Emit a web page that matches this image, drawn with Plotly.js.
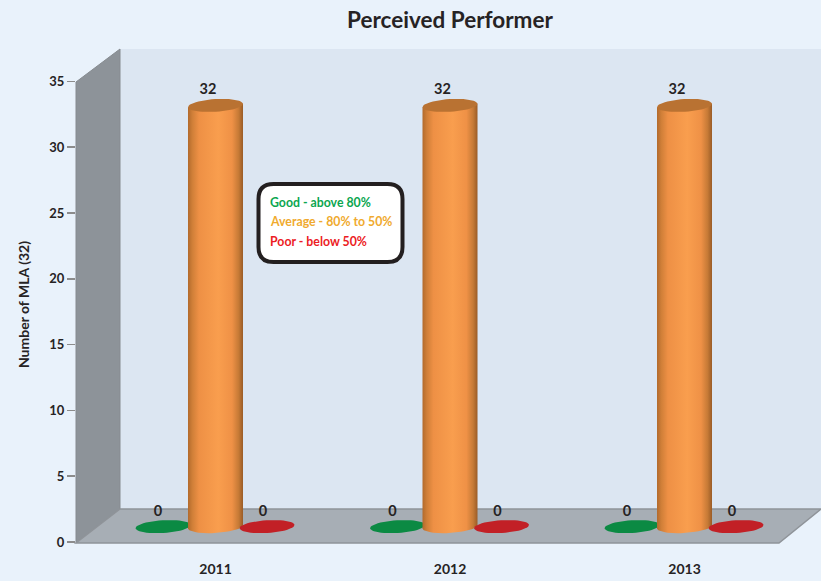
<!DOCTYPE html>
<html><head><meta charset="utf-8">
<script src="https://cdn.plot.ly/plotly-3.0.1.min.js"></script>
<style>html,body{margin:0;padding:0;background:#e9f2fb}#c{width:821px;height:581px}</style>
</head><body><div id="c"></div>
<script>
const years = ['2011', '2012', '2013'];
const good = [0, 0, 0];
const average = [32, 32, 32];
const poor = [0, 0, 0];
const legendLines = ['Good - above 80%', 'Average - 80% to 50%', 'Poor - below 50%'];
const legendColors = ['#0ba650', '#f0aa2e', '#ec1c24'];
const titleText = 'Perceived Performer';
const yTitle = 'Number of MLA (32)';

const W = 821, H = 581, L = 76, T = 67, B = 39;
const pxPerCat = 234.5, pxPerVal = 13.16, zeroPx = H - B, firstCatPx = 215.5;
const X = p => (p - firstCatPx) / pxPerCat;
const Y = p => (zeroPx - p) / pxPerVal;
const PX = p => (p - L) / (W - L);
const PY = p => (H - B - p) / (H - B - T);
const floorRise = 15.4 / pxPerVal;
const FONT = 'Lato, "Open Sans", sans-serif';
const INK = '#262324';
const idx = years.map((_, i) => i);
const TILT = 3.5;

function ellipse(cx, cy, rx, ry, tiltDeg) {
  const a = tiltDeg * Math.PI / 180, xs = [], ys = [];
  for (let k = 0; k <= 48; k++) {
    const t = k / 48 * 2 * Math.PI, ex = rx * Math.cos(t), ey = ry * Math.sin(t);
    xs.push(cx + (ex * Math.cos(a) + ey * Math.sin(a)) / pxPerCat);
    ys.push(cy + (ex * Math.sin(a) - ey * Math.cos(a)) / pxPerVal);
  }
  return {x: xs, y: ys};
}
function disc(cx, value, color, rx, ry, tilt) {
  const e = ellipse(cx, value + floorRise, rx, ry, tilt);
  return {x: e.x, y: e.y, mode: 'lines', fill: 'toself', fillcolor: color, line: {width: 0},
    hoverinfo: 'skip', showlegend: false};
}
function cylinder(cx, value) {
  const rx = 27.5 / pxPerCat, ry = 6.4 / pxPerVal, slope = 1.7 / pxPerVal, xs = [], ys = [];
  const base = floorRise, top = value + floorRise;
  for (let k = 0; k <= 24; k++) {
    const t = Math.PI * k / 24;
    xs.push(cx - rx * Math.cos(t)); ys.push(base - ry * Math.sin(t) - slope * Math.cos(t));
  }
  xs.push(cx + rx); ys.push(top + slope); xs.push(cx - rx); ys.push(top - slope);
  xs.push(cx - rx); ys.push(base - slope);
  return {x: xs, y: ys, mode: 'lines', fill: 'toself', line: {width: 0},
    fillgradient: {type: 'horizontal', colorscale: [
      [0, '#b26a2c'], [0.08, '#d07f38'], [0.2, '#ee9045'], [0.55, '#f99e4e'],
      [0.8, '#ef9146'], [0.92, '#c67a36'], [1, '#9a5c27']]},
    hoverinfo: 'skip', showlegend: false};
}

const traces = [];
const greenOff = -52.5 / pxPerCat, redOff = 51.5 / pxPerCat;
idx.forEach(i => {
  traces.push(disc(i + greenOff, good[i], '#0b8a43', 27.5, 6.4, TILT));
  traces.push(cylinder(i, average[i]));
  traces.push(disc(i, average[i], '#b97232', 27.5, 6.4, TILT));
  traces.push(disc(i + redOff, poor[i], '#c22026', 27.5, 6.4, TILT));
});
// value labels
const labelTrace = (xOff, vals, liftPx) => ({
  x: idx.map(i => i + xOff), y: vals.map(v => v + floorRise + liftPx / pxPerVal),
  text: vals.map(String), mode: 'text', textposition: 'middle center',
  textfont: {family: FONT, size: 14.5, color: INK, weight: 700},
  hoverinfo: 'skip', showlegend: false, cliponaxis: false
});
traces.push(labelTrace(-57.5 / pxPerCat, good, 14.5));
traces.push(labelTrace(-7.5 / pxPerCat, average, 15.5));
traces.push(labelTrace(47.5 / pxPerCat, poor, 14.5));

const pathOf = pts => pts.map((p, i) => (i ? 'L ' : 'M ') + PX(p[0]) + ' ' + PY(p[1])).join(' ') + ' Z';
const bx0 = 258.5, bx1 = 402.5, by0 = 184, by1 = 262, r = 15;
const mx = PX, my = PY;
const boxPath =
  `M ${mx(bx0 + r)} ${my(by0)} L ${mx(bx1 - r)} ${my(by0)} Q ${mx(bx1)} ${my(by0)} ${mx(bx1)} ${my(by0 + r)} ` +
  `L ${mx(bx1)} ${my(by1 - r)} Q ${mx(bx1)} ${my(by1)} ${mx(bx1 - r)} ${my(by1)} ` +
  `L ${mx(bx0 + r)} ${my(by1)} Q ${mx(bx0)} ${my(by1)} ${mx(bx0)} ${my(by1 - r)} ` +
  `L ${mx(bx0)} ${my(by0 + r)} Q ${mx(bx0)} ${my(by0)} ${mx(bx0 + r)} ${my(by0)} Z`;

const legendY = [202, 221, 241];
const layout = {
  width: W, height: H,
  margin: {l: L, r: 0, t: T, b: B},
  paper_bgcolor: '#e9f2fb', plot_bgcolor: 'rgba(0,0,0,0)',
  showlegend: false, hovermode: false,
  title: {text: '<b>' + titleText + '</b>', x: 450 / W, xref: 'container', xanchor: 'center', y: 1 - 20 / H,
    yref: 'container', yanchor: 'middle', font: {family: FONT, size: 22.5, color: INK}},
  xaxis: {
    range: [X(L), X(W)], tickmode: 'array', tickvals: idx, ticktext: years,
    showgrid: false, zeroline: false, showline: false,
    ticks: 'outside', ticklen: 14, tickcolor: 'rgba(0,0,0,0)',
    tickfont: {family: FONT, size: 14, color: INK, weight: 700}, fixedrange: true
  },
  yaxis: {
    range: [0, (zeroPx - T) / pxPerVal], tickmode: 'array', tickvals: [0, 5, 10, 15, 20, 25, 30, 35],
    showgrid: false, zeroline: false, showline: false,
    ticks: 'outside', ticklen: 8, tickwidth: 1.5, tickcolor: '#8c8c8c',
    tickfont: {family: FONT, size: 13, color: INK, weight: 700}, fixedrange: true,
    title: {text: '<b>' + yTitle + '</b>', standoff: 16, font: {family: FONT, size: 14, color: INK}}
  },
  shapes: [
    {type: 'path', layer: 'below', xref: 'paper', yref: 'paper',
      path: pathOf([[120, 49], [W, 49], [W, 509], [120, 509]]), fillcolor: '#dce6f2', line: {width: 0}},
    {type: 'path', layer: 'below', xref: 'paper', yref: 'paper',
      path: pathOf([[76, 82], [120, 49], [120, 509], [76, 543]]), fillcolor: '#8d9399', line: {color: '#868b90', width: 1}},
    {type: 'path', layer: 'below', xref: 'paper', yref: 'paper',
      path: pathOf([[76, 543], [120, 509], [W, 509], [779, 543]]), fillcolor: '#a7aeb5', line: {color: '#8f9499', width: 1.5}},
    {type: 'path', layer: 'above', xref: 'paper', yref: 'paper', path: boxPath, fillcolor: '#ffffff',
      line: {color: '#231f20', width: 4}}
  ],
  annotations: legendLines.map((t, i) => ({
    text: '<b>' + t + '</b>', xref: 'paper', yref: 'paper', x: PX(268), y: PY(legendY[i]),
    xanchor: 'left', yanchor: 'middle', showarrow: false,
    font: {family: FONT, size: 12.3, color: legendColors[i]}
  }))
};
Plotly.newPlot('c', traces, layout, {displayModeBar: false, staticPlot: true});
</script></body></html>
